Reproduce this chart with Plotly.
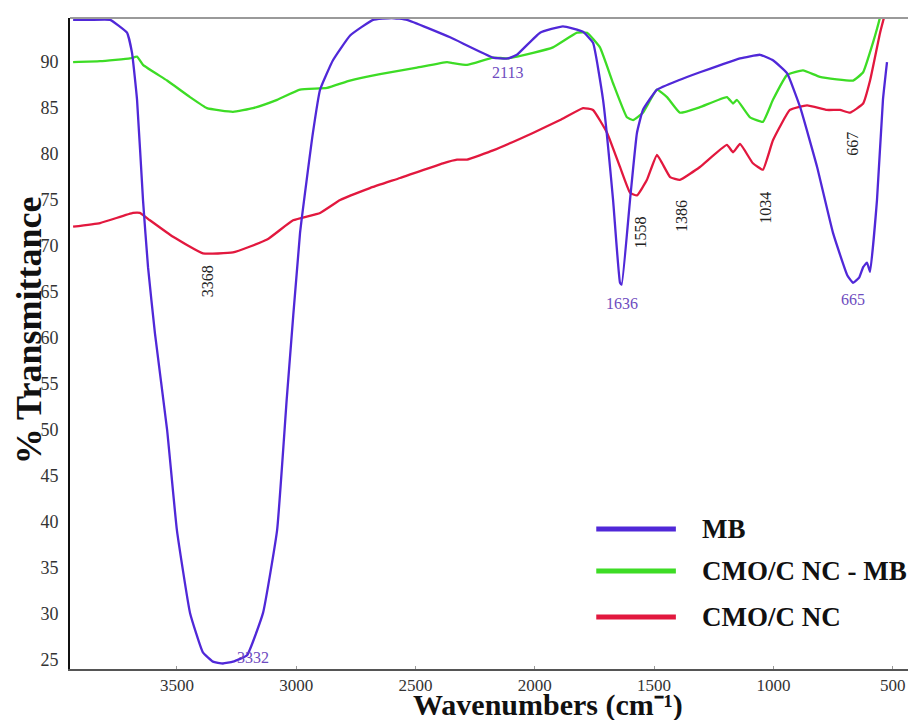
import plotly.graph_objects as go

# ---- data ----
mb_wn = [3935, 3864, 3780, 3709, 3688, 3667, 3642, 3621, 3592, 3541, 3500, 3445, 3391, 3349,
         3307, 3265, 3206, 3139, 3080, 3039, 2984, 2930, 2900, 2846, 2774, 2678, 2600, 2536,
         2355, 2175, 2113, 2075, 1978, 1882, 1798, 1756, 1714, 1672, 1643, 1636, 1601, 1572,
         1547, 1488, 1400, 1308, 1220, 1140, 1056, 1002, 943, 888, 817, 750, 690, 666, 640,
         624, 608, 595, 566, 541, 524]
mb_t = [94.6, 94.6, 94.6, 93.2, 91.0, 85.9, 75.0, 67.7, 60.5, 50.0, 39.1, 30.1, 25.8, 24.8,
        24.6, 24.8, 25.5, 30.1, 39.1, 53.6, 71.4, 82.3, 87.0, 90.2, 92.9, 94.6, 94.8, 94.6,
        92.7, 90.5, 90.4, 90.8, 93.2, 93.9, 93.3, 92.1, 85.9, 75.0, 66.0, 65.8, 75.0, 82.3,
        84.8, 87.0, 88.0, 88.9, 89.7, 90.4, 90.8, 90.2, 88.8, 85.1, 78.6, 71.4, 66.8, 66.0, 66.6,
        67.7, 68.2, 67.2, 75.0, 85.9, 90.0]

mbnc_wn = [3935, 3822, 3697, 3667, 3642, 3541, 3445, 3374, 3265, 3181, 3080, 2984, 2871, 2775,
           2649, 2494, 2368, 2343, 2284, 2175, 2117, 2007, 1924, 1823, 1781, 1727, 1672, 1614,
           1588, 1547, 1488, 1446, 1392, 1308, 1195, 1169, 1153, 1098, 1044, 1002, 943, 876,
           805, 666, 624, 583, 553, 540]
mbnc_t = [90.0, 90.1, 90.4, 90.6, 89.7, 88.0, 86.2, 85.0, 84.6, 85.0, 85.9, 87.0, 87.2, 88.0,
          88.7, 89.4, 90.0, 89.9, 89.7, 90.5, 90.4, 91.0, 91.6, 93.2, 93.2, 91.6, 87.7, 84.0,
          83.7, 84.5, 87.0, 86.2, 84.5, 85.1, 86.2, 85.5, 85.9, 84.0, 83.5, 85.9, 88.6, 89.1,
          88.4, 88.0, 88.9, 92.1, 94.9, 96.5]

nc_wn = [3935, 3822, 3684, 3655, 3613, 3516, 3391, 3265, 3122, 3013, 2900, 2816, 2691, 2565,
         2385, 2326, 2284, 2175, 2008, 1894, 1798, 1756, 1697, 1643, 1601, 1572, 1530, 1488,
         1433, 1392, 1308, 1195, 1169, 1140, 1086, 1044, 1002, 931, 859, 776, 721, 679, 624,
         595, 553, 532]
nc_t = [72.1, 72.5, 73.6, 73.6, 72.8, 71.0, 69.2, 69.3, 70.7, 72.8, 73.6, 75.0, 76.3, 77.4,
        79.0, 79.4, 79.4, 80.4, 82.3, 83.7, 85.0, 84.8, 82.3, 78.6, 75.8, 75.5, 77.2, 79.9,
        77.5, 77.2, 78.6, 81.0, 80.2, 81.1, 79.0, 78.3, 81.5, 84.8, 85.3, 84.8, 84.8, 84.5,
        85.5, 88.0, 93.2, 95.3]

series_names = ["MB", "CMO/C NC - MB", "CMO/C NC"]
series_colors = ["#5028d8", "#3ddc25", "#e2183e"]

x_ticks = [3500, 3000, 2500, 2000, 1500, 1000, 500]
y_ticks = [25, 30, 35, 40, 45, 50, 55, 60, 65, 70, 75, 80, 85, 90]

# peak labels
peak_wn = [2113, 1636, 665, 3332, 3368, 1558, 1386, 1034, 667]
peak_t = [88.9, 63.8, 64.2, 25.3, 66.2, 71.5, 73.3, 74.2, 81.1]
peak_txt = ["2113", "1636", "665", "3332", "3368", "1558", "1386", "1034", "667"]
peak_rot = [False, False, False, False, True, True, True, True, True]

SERIF = "Liberation Serif"
PURPLE = "#6e4cc0"

fig = go.Figure()
for wn, t, name, col in [(nc_wn, nc_t, series_names[2], series_colors[2]),
                         (mbnc_wn, mbnc_t, series_names[1], series_colors[1]),
                         (mb_wn, mb_t, series_names[0], series_colors[0])]:
    fig.add_trace(go.Scatter(x=wn, y=t, mode="lines", name=name,
                             line=dict(color=col, width=2.3, shape="spline", smoothing=0.35),
                             showlegend=False))

annotations = []
for wn, t, txt, rot in zip(peak_wn, peak_t, peak_txt, peak_rot):
    if rot:
        annotations.append(dict(x=wn, y=t, xref="x", yref="y", text=txt, showarrow=False,
                                textangle=-90, font=dict(family=SERIF, size=16, color="#222")))
    else:
        xshift = 36 if txt == "3332" else 0
        annotations.append(dict(x=wn, y=t, xref="x", yref="y", text=txt, showarrow=False,
                                xshift=xshift, font=dict(family=SERIF, size=16, color=PURPLE)))

# axis titles
annotations.append(dict(x=0.57, y=-0.0845, xref="paper", yref="paper", yanchor="bottom",
                        xanchor="center",
                        text="<b>Wavenumbers (cm\u207b\u00b9)</b>", showarrow=False,
                        font=dict(family=SERIF, size=30, color="#111")))
annotations.append(dict(x=-0.048, y=0.52, xref="paper", yref="paper", xanchor="center",
                        yanchor="middle",
                        text="<b>% Transmittance</b>", showarrow=False, textangle=-90,
                        font=dict(family=SERIF, size=36, color="#111")))

# custom legend
shapes = []
leg_y = [0.215, 0.1505, 0.080]
for name, col, ly in zip(series_names, series_colors, leg_y):
    shapes.append(dict(type="line", xref="paper", yref="paper", x0=0.628, x1=0.723,
                       y0=ly, y1=ly, line=dict(color=col, width=5)))
    annotations.append(dict(x=0.752, y=ly, xref="paper", yref="paper", xanchor="left",
                            yanchor="middle", text="<b>" + name + "</b>", showarrow=False,
                            font=dict(family=SERIF, size=27, color="#111")))

# top frame line
shapes.append(dict(type="line", xref="paper", yref="paper", x0=0, x1=1.0, y0=1, y1=1,
                   line=dict(color="#9a9a9a", width=2)))

fig.update_layout(
    width=913, height=720,
    margin=dict(l=70, r=5, t=18, b=51),
    plot_bgcolor="white", paper_bgcolor="white",
    showlegend=False,
    annotations=annotations,
    shapes=shapes,
    xaxis=dict(range=[3948, 436], tickvals=x_ticks, ticktext=[str(v) for v in x_ticks],
               showgrid=False, zeroline=False, showline=True, linecolor="#555", linewidth=2,
               ticks="inside", ticklen=3, tickcolor="#999",
               tickfont=dict(family=SERIF, size=17, color="#333")),
    yaxis=dict(range=[24.0, 94.8], tickvals=y_ticks, ticktext=[str(v) for v in y_ticks],
               showgrid=False, zeroline=False, showline=True, linecolor="#111", linewidth=2,
               ticks="", ticklabelstandoff=6,
               tickfont=dict(family=SERIF, size=18, color="#333")),
)

fig.write_html("out.html")
